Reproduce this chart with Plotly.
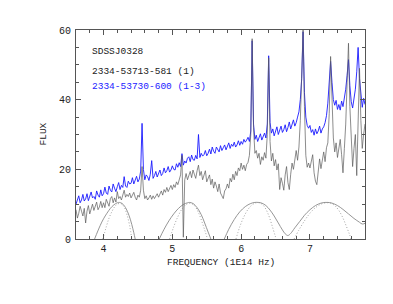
import numpy as np
import plotly.graph_objects as go

# frequency grid (1E14 Hz), 0.02 step
freq = np.round(np.arange(3.60, 7.801, 0.02), 2).tolist()

flux_blue = [
    10.0, 11.6, 12.4, 10.4, 11.2, 12.8, 10.9, 11.5, 13.0, 11.0,
    12.6, 13.5, 11.8, 12.2, 11.4, 13.8, 12.6, 12.0, 14.1, 12.4,
    13.0, 14.9, 13.2, 12.8, 15.2, 14.0, 13.5, 15.8, 14.6, 13.6,
    15.0, 16.2, 14.2, 15.4, 14.8, 17.9, 15.2, 14.8, 16.6, 15.8,
    16.0, 17.6, 15.8, 16.8, 18.0, 16.4, 17.2, 19.5, 33.2, 20.0,
    17.0, 18.4, 17.9, 16.8, 18.6, 22.5, 17.4, 18.2, 19.4, 17.8,
    18.9, 19.8, 18.2, 18.8, 20.4, 19.0, 19.6, 20.8, 19.2, 19.8,
    21.0, 20.0, 19.8, 21.6, 20.6, 21.9, 20.8, 24.5, 21.2, 22.4,
    21.8, 23.2, 23.6, 22.2, 24.1, 22.8, 22.6, 24.0, 23.0, 30.0,
    23.4, 24.6, 23.8, 24.2, 25.4, 23.9, 24.6, 25.8, 24.4, 26.4,
    25.2, 24.6, 26.4, 25.6, 25.0, 26.8, 25.4, 26.2, 27.0, 25.6,
    26.4, 27.6, 26.0, 27.2, 26.6, 27.8, 26.4, 27.0, 28.2, 26.9,
    28.0, 27.2, 28.6, 27.8, 28.4, 29.2, 28.0, 31.0, 56.9, 33.0,
    28.6, 29.8, 28.0, 29.2, 30.2, 28.4, 29.6, 30.4, 29.0, 33.0,
    52.6, 33.5, 30.4, 31.6, 29.6, 30.8, 32.2, 30.0, 31.2, 32.4,
    30.6, 31.4, 32.8, 30.8, 32.0, 33.6, 31.6, 32.8, 34.2, 32.4,
    33.4, 35.0, 36.5, 40.0, 46.0, 59.5, 42.0, 35.0, 32.6, 31.8,
    32.6, 30.6, 31.4, 29.8, 31.6, 30.2, 31.0, 32.4, 30.4, 31.6,
    32.2, 33.4, 35.4, 39.0, 44.0, 51.0, 45.0, 40.0, 38.4, 39.8,
    37.2, 38.6, 37.0, 39.6, 38.0, 40.4, 43.0, 47.0, 51.5, 44.0,
    39.4, 37.6, 40.6, 43.0, 48.0, 55.0, 46.0, 40.6, 37.8, 40.4,
    38.6,
]

flux_gray = [
    8.4, 6.0, 7.4, 9.4, 8.0, 6.6, 8.8, 4.6, 8.0, 9.6,
    7.2, 8.4, 10.0, 8.2, 9.6, 10.6, 8.4, 9.2, 10.8, 9.0,
    10.4, 9.0, 11.4, 10.6, 9.4, 11.6, 12.2, 10.4, 11.8, 10.6,
    13.6, 11.6, 12.2, 11.2, 13.0, 14.0, 12.0, 12.8, 12.2, 13.2,
    11.8, 12.6, 13.4, 12.0, 11.2, 12.6, 12.0, 14.0, 20.8, 14.0,
    11.6, 12.4, 11.2, 11.8, 12.6, 11.4, 12.4, 11.6, 12.2, 13.0,
    12.0, 13.2, 13.8, 12.6, 14.2, 13.4, 14.8, 13.6, 14.6, 15.4,
    14.2, 15.6, 14.8, 16.4, 15.6, 17.0, 18.4, 24.0, 0.5, 17.0,
    18.8, 17.0, 18.4, 19.4, 17.6, 19.8, 18.6, 17.4, 19.6, 21.2,
    18.2, 19.4, 17.0, 18.4, 19.6, 16.4, 17.6, 18.4, 15.6, 17.2,
    14.6, 16.4, 15.2, 13.6, 15.8, 13.2, 12.4, 11.6, 13.8, 14.4,
    15.8, 14.6, 17.4, 16.4, 18.6, 17.0, 19.4, 18.2, 20.4, 19.6,
    21.8, 20.0, 21.2, 19.6, 21.4, 22.0, 24.0, 30.0, 57.5, 32.0,
    24.6, 25.4, 23.2, 24.6, 21.4, 23.6, 22.6, 24.8, 23.2, 30.0,
    52.0, 28.0, 22.4, 24.6, 21.0, 22.8, 19.8, 21.6, 14.2, 17.6,
    16.0, 14.0, 18.4, 20.8, 16.2, 14.2, 18.6, 21.8, 20.0, 23.4,
    25.4, 22.6, 26.4, 34.0, 45.0, 60.0, 38.0, 24.0, 20.6, 21.8,
    20.4, 22.6, 24.2, 19.0, 16.6, 15.6, 19.6, 23.0, 20.2, 22.4,
    25.0, 22.2, 26.2, 27.6, 36.0, 52.4, 40.0, 29.0, 25.0, 27.6,
    23.4, 26.0, 28.6, 24.2, 19.0, 26.0, 33.0, 45.0, 56.2, 38.0,
    28.0, 20.8, 26.0, 30.0, 18.2, 36.0, 49.0, 34.0, 26.0, 30.0,
    33.0,
]

# model humps (solid)
model_solid_x = [3.87, 3.95, 4.00, 4.05, 4.10, 4.15, 4.20, 4.23, 4.27, 4.32, 4.37, 4.41, 4.44, 4.46, None,
                 4.81, 4.88, 4.95, 5.02, 5.09, 5.16, 5.22, 5.25, 5.30, 5.36, 5.42, 5.47, 5.52, 5.56, None,
                 5.755, 5.82, 5.90, 5.98, 6.06, 6.14, 6.20, 6.25, 6.30, 6.36, 6.42, 6.48, 6.54, 6.60, 6.64,
                 6.68, 6.72, 6.78, 6.85, 6.92, 7.00, 7.08, 7.16, 7.22, 7.26, 7.32, 7.40, 7.48, 7.56, 7.64,
                 7.72, 7.76, 7.80]
model_solid_y = [0, 3.8, 5.8, 7.4, 8.8, 9.8, 10.4, 10.5, 10.2, 9.0, 6.8, 4.2, 1.8, 0, None,
                 0, 2.8, 5.2, 7.2, 8.8, 9.9, 10.4, 10.5, 10.2, 9.0, 7.0, 4.6, 2.0, 0, None,
                 0, 2.8, 5.6, 7.8, 9.3, 10.2, 10.5, 10.5, 10.3, 9.6, 8.3, 6.6, 4.6, 2.6, 1.5,
                 1.0, 1.6, 3.2, 5.0, 6.8, 8.4, 9.6, 10.3, 10.5, 10.5, 10.3, 9.6, 8.5, 7.2, 5.9,
                 4.8, 4.3, 4.5]

# model humps (dotted)
model_dot_x = [3.99, 4.04, 4.08, 4.12, 4.16, 4.20, 4.25, 4.30, 4.34, 4.38, 4.41, None,
               4.96, 5.02, 5.08, 5.14, 5.20, 5.26, 5.32, 5.38, 5.44, 5.48, 5.51, None,
               5.925, 5.98, 6.04, 6.10, 6.16, 6.22, 6.28, 6.34, 6.40, 6.45, 6.49, 6.51, None,
               6.77, 6.84, 6.92, 7.00, 7.08, 7.16, 7.24, 7.30, 7.36, 7.42, 7.48, 7.53, 7.57, 7.60]
model_dot_y = [0, 3.5, 6.0, 7.8, 9.2, 10.0, 10.2, 9.2, 7.0, 3.8, 0, None,
               0, 3.5, 6.4, 8.6, 9.9, 10.3, 9.6, 7.6, 4.4, 2.0, 0, None,
               0, 3.5, 6.4, 8.5, 9.8, 10.4, 10.3, 9.2, 6.8, 3.8, 1.2, 0, None,
               0, 2.6, 5.2, 7.4, 9.0, 10.0, 10.4, 10.3, 9.6, 8.2, 6.0, 3.6, 1.6, 0]

x_ticks = [4, 5, 6, 7]
y_ticks = [0, 20, 40, 60]

FONT = "Liberation Mono"

fig = go.Figure()
fig.add_trace(go.Scatter(x=model_dot_x, y=model_dot_y, mode="lines",
                         line=dict(color="#8a8a8a", width=0.8, dash="1px,2px", shape="spline"),
                         hoverinfo="skip"))
fig.add_trace(go.Scatter(x=model_solid_x, y=model_solid_y, mode="lines",
                         line=dict(color="#8a8a8a", width=0.9, shape="spline"), hoverinfo="skip"))
fig.add_trace(go.Scatter(x=freq, y=flux_blue, mode="lines",
                         line=dict(color="#1a1aff", width=0.9)))
fig.add_trace(go.Scatter(x=freq, y=flux_gray, mode="lines",
                         line=dict(color="#5a5a5a", width=0.7)))

axis_common = dict(showgrid=False, zeroline=False, ticks="inside", mirror="allticks",
                   showline=True, linecolor="#555555", linewidth=1, tickcolor="#555555",
                   tickfont=dict(family=FONT, size=10, color="#222222"))

fig.update_xaxes(range=[3.6, 7.8], tickvals=x_ticks, ticklen=5,
                 minor=dict(ticks="inside", dtick=0.2, tick0=0, ticklen=3, tickcolor="#555555"),
                 **axis_common)
fig.update_yaxes(range=[0, 60], tickvals=y_ticks, ticklen=5, ticklabelstandoff=2,
                 minor=dict(ticks="inside", dtick=5, tick0=0, ticklen=3, tickcolor="#555555"),
                 **axis_common)

labels = [("SDSSJ0328", 53.95, "#222222"),
          ("2334-53713-581 (1)", 48.0, "#222222"),
          ("2334-53730-600 (1-3)", 43.9, "#2222ff")]
for txt, yv, col in labels:
    fig.add_annotation(x=3.803, y=yv, xref="x", yref="y", text=txt, showarrow=False,
                       xanchor="left", yanchor="middle",
                       font=dict(family=FONT, size=9.5, color=col))

fig.add_annotation(x=0.5, y=0, xref="paper", yref="paper", text="FREQUENCY (1E14 Hz)",
                   showarrow=False, xanchor="center", yanchor="middle", yshift=-23,
                   font=dict(family=FONT, size=9.5, color="#222222"))
fig.add_annotation(x=0, y=0.5, xref="paper", yref="paper", text="FLUX", textangle=-90,
                   showarrow=False, xanchor="center", yanchor="middle", xshift=-33,
                   font=dict(family=FONT, size=9.5, color="#222222"))

# page body has an 8px margin: compensate so the plot area lands at x 76-365, y 30-239
fig.update_layout(width=393, height=304, showlegend=False,
                  margin=dict(l=68, r=36, t=22, b=73),
                  plot_bgcolor="white", paper_bgcolor="white")

fig.write_html("out.html")
